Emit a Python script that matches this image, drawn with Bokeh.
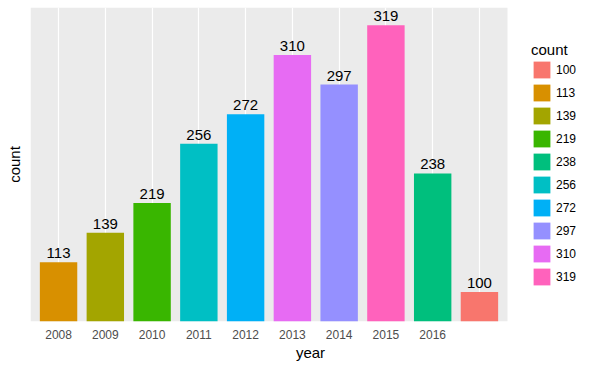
from bokeh.plotting import figure
from bokeh.models import ColumnDataSource, Range1d, Legend, LegendItem, FixedTicker, BoxAnnotation, Title
from bokeh.core.properties import value
from bokeh.embed import file_html
from bokeh.resources import INLINE

# ---- data ----
years = ["2008", "2009", "2010", "2011", "2012", "2013", "2014", "2015", "2016", "2017"]
counts = [113, 139, 219, 256, 272, 310, 297, 319, 238, 100]
# tick labels as visible in the reference (last one hidden under the watermark)
tick_labels = ["2008", "2009", "2010", "2011", "2012", "2013", "2014", "2015", "2016", ""]
# count is a discrete (factor) variable in the original chart
levels = sorted(counts)
level_colors = ["#F8766D", "#D89000", "#A3A500", "#39B600", "#00BF7D",
                "#00BFC4", "#00B0F6", "#9590FF", "#E76BF3", "#FF62BC"]

FONT = "Liberation Sans"

xpos = [i + 1 for i in range(len(years))]
pos = [levels.index(c) + 1 for c in counts]
cols = [level_colors[levels.index(c)] for c in counts]
src = ColumnDataSource(dict(x=xpos, year=years, count=counts, pos=pos, color=cols,
                            label=[str(c) for c in counts]))

# layout (pixels)
W, H = 590, 365
LEFT, TOP, BOTTOM = 30, 7, 44
PANEL_W = 477
x0, x1 = 0.4, len(years) + 0.6           # discrete scale with 0.6 expansion
y0, y1 = 0, len(levels) + 0.6
frame_w = W - LEFT
x_end = x0 + (x1 - x0) * frame_w / PANEL_W  # frame extends right to host the legend

p = figure(width=W, height=H, output_backend="svg", toolbar_location=None,
           x_range=Range1d(x0, x_end), y_range=Range1d(y0, y1),
           min_border_left=LEFT, min_border_right=0, min_border_top=TOP,
           min_border_bottom=BOTTOM)

p.background_fill_color = "white"
p.border_fill_color = "white"
p.outline_line_color = None

# grey panel
p.add_layout(BoxAnnotation(left=x0, right=x1, bottom=y0, top=y1, fill_color="#EBEBEB",
                           fill_alpha=1, line_color=None, level="image"))

r = p.vbar(x="x", top="pos", bottom=0, width=0.8, source=src,
           fill_color="color", line_color=None)

p.text(x="x", y="pos", text="label", source=src, y_offset=-9,
       text_align="center", text_baseline="alphabetic",
       text_font=value(FONT), text_font_size="15px", text_color="black")

# x axis
xa = p.xaxis[0]
xa.ticker = FixedTicker(ticks=xpos)
xa.major_label_overrides = {x: t for x, t in zip(xpos, tick_labels)}
xa.axis_line_color = None
xa.major_tick_line_color = None
xa.minor_tick_line_color = None
xa.major_tick_out = 0
xa.major_tick_in = 0
xa.major_label_standoff = 8
xa.major_label_text_font = FONT
xa.major_label_text_font_size = "12px"
xa.major_label_text_color = "#4D4D4D"

# x axis title, centred under the grey panel
p.add_layout(Title(text="year", align="center", offset=(PANEL_W - frame_w) / 2,
                   text_font=FONT, text_font_size="15px", text_font_style="normal",
                   text_color="black", standoff=0), "below")

# grid
p.xgrid.ticker = FixedTicker(ticks=xpos)
p.xgrid.grid_line_color = "white"
p.xgrid.grid_line_width = 1.2
p.ygrid.visible = False

# y axis (no tick labels, title only)
ya = p.yaxis[0]
ya.ticker = FixedTicker(ticks=[])
ya.axis_label = "count"
ya.axis_line_color = None
ya.major_tick_line_color = None
ya.minor_tick_line_color = None
ya.major_tick_out = 0
ya.major_tick_in = 0
ya.major_label_standoff = 0
ya.axis_label_text_font = FONT
ya.axis_label_text_font_size = "15px"
ya.axis_label_text_font_style = "normal"
ya.axis_label_text_color = "black"
ya.axis_label_standoff = 8

# legend
items = [LegendItem(label=str(lv), renderers=[r], index=counts.index(lv)) for lv in levels]
legend = Legend(items=items, location=(PANEL_W + 24, 34), title="count",
                title_text_font=FONT, title_text_font_size="15px", title_text_font_style="normal",
                title_text_color="black", title_standoff=1,
                label_text_font=FONT, label_text_font_size="12px", label_text_color="black",
                glyph_width=21, glyph_height=21, spacing=2, label_standoff=4,
                label_height=21, padding=0, margin=0,
                border_line_color=None, background_fill_alpha=0)
p.add_layout(legend, "center")

open("out.html", "w").write(file_html(p, INLINE))
